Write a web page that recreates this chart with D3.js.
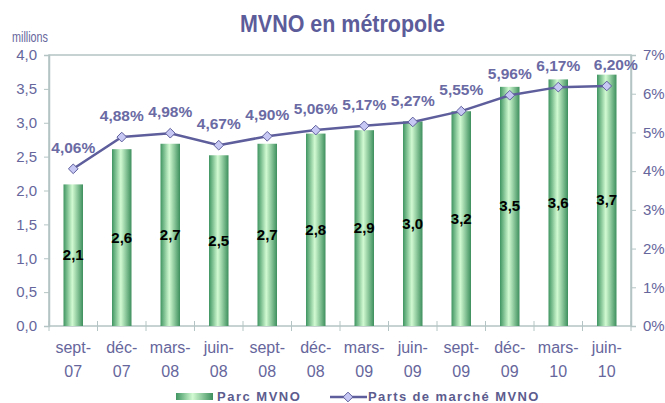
<!DOCTYPE html>
<html>
<head>
<meta charset="utf-8">
<script src="https://cdn.jsdelivr.net/npm/d3@7"></script>
<style>
  body { margin: 0; background: #fff; }
  text { font-family: "Liberation Sans", Arial, sans-serif; }
</style>
</head>
<body>
<div id="chart"></div>
<script>
// data
var months = ['sept-', 'déc-', 'mars-', 'juin-', 'sept-', 'déc-', 'mars-', 'juin-', 'sept-', 'déc-', 'mars-', 'juin-'];
var years = ['07', '07', '08', '08', '08', '08', '09', '09', '09', '09', '10', '10'];
var parc = [2.09, 2.61, 2.69, 2.52, 2.69, 2.84, 2.89, 3.02, 3.17, 3.53, 3.64, 3.71];
var parts = [4.06, 4.88, 4.98, 4.67, 4.90, 5.06, 5.17, 5.27, 5.55, 5.96, 6.17, 6.20];
var leftTicks = [0, 0.5, 1, 1.5, 2, 2.5, 3, 3.5, 4];
var rightTicks = [0, 1, 2, 3, 4, 5, 6, 7];

var width = 665, height = 403;
var margin = {top: 55, right: 34, bottom: 77, left: 49};
var axisCol = '#b4c4c4', textCol = '#66669c', lineCol = '#5e5e9c';

var svg = d3.select('#chart').append('svg')
  .attr('width', width).attr('height', height);

var defs = svg.append('defs');
var grad = defs.append('linearGradient').attr('id', 'bargrad')
  .attr('x1', '0%').attr('x2', '100%').attr('y1', '0%').attr('y2', '0%');
grad.append('stop').attr('offset', '0%').attr('stop-color', '#3f9561');
grad.append('stop').attr('offset', '45%').attr('stop-color', '#d2fad2');
grad.append('stop').attr('offset', '100%').attr('stop-color', '#3d8f5d');

var keys = d3.range(months.length);
var x = d3.scaleBand().domain(keys)
  .range([margin.left, width - margin.right]);
var y = d3.scaleLinear().domain([0, 4])
  .range([height - margin.bottom, margin.top]);
var y2 = d3.scaleLinear().domain([0, 7])
  .range([height - margin.bottom, margin.top]);

// title
svg.append('text')
  .attr('x', 240).attr('y', 32)
  .attr('font-size', 24).attr('font-weight', 'bold')
  .attr('textLength', 205).attr('lengthAdjust', 'spacingAndGlyphs')
  .attr('fill', '#5c5c9a')
  .text('MVNO en métropole');

svg.append('text')
  .attr('x', 12).attr('y', 42)
  .attr('font-size', 14).attr('fill', textCol)
  .attr('textLength', 36).attr('lengthAdjust', 'spacingAndGlyphs')
  .text('millions');

// frame of the plot area
svg.append('rect')
  .attr('x', margin.left).attr('y', margin.top)
  .attr('width', width - margin.left - margin.right)
  .attr('height', height - margin.top - margin.bottom)
  .attr('fill', 'none').attr('stroke', axisCol).attr('stroke-width', 1.5);

// left axis
var gl = svg.append('g')
  .attr('transform', 'translate(' + margin.left + ',0)')
  .call(d3.axisLeft(y).tickValues(leftTicks).tickSize(5).tickPadding(7)
    .tickFormat(function(d){ return d3.format('.1f')(d).replace('.', ','); }));
gl.select('.domain').attr('stroke', axisCol).attr('stroke-width', 1.5);
gl.selectAll('.tick line').attr('stroke', axisCol);
gl.selectAll('.tick text').attr('fill', textCol).attr('font-size', 15);

// right axis
var gr = svg.append('g')
  .attr('transform', 'translate(' + (width - margin.right) + ',0)')
  .call(d3.axisRight(y2).tickValues(rightTicks).tickSize(5).tickPadding(7)
    .tickFormat(function(d){ return d + '%'; }));
gr.select('.domain').attr('stroke', axisCol).attr('stroke-width', 1.5);
gr.selectAll('.tick line').attr('stroke', axisCol);
gr.selectAll('.tick text').attr('fill', textCol).attr('font-size', 15);

// bottom axis with ticks between categories
var base = height - margin.bottom;
svg.append('g').selectAll('line')
  .data(d3.range(months.length + 1))
  .enter().append('line')
  .attr('x1', function(i){ return margin.left + i * x.step(); })
  .attr('x2', function(i){ return margin.left + i * x.step(); })
  .attr('y1', base - 5).attr('y2', base + 5)
  .attr('stroke', axisCol);

var xl = svg.append('g').selectAll('text')
  .data(keys).enter().append('text')
  .attr('text-anchor', 'middle')
  .attr('font-size', 16).attr('fill', textCol);
xl.append('tspan')
  .attr('x', function(i){ return x(i) + x.bandwidth() / 2; })
  .attr('y', base + 27)
  .text(function(i){ return months[i]; });
xl.append('tspan')
  .attr('x', function(i){ return x(i) + x.bandwidth() / 2; })
  .attr('y', base + 51)
  .text(function(i){ return years[i]; });

// bars
var bw = 19.5;
svg.append('g').selectAll('rect')
  .data(keys).enter().append('rect')
  .attr('x', function(i){ return x(i) + x.bandwidth() / 2 - bw / 2; })
  .attr('width', bw)
  .attr('y', function(i){ return y(parc[i]); })
  .attr('height', function(i){ return y(0) - y(parc[i]); })
  .attr('fill', 'url(#bargrad)');

svg.append('g').selectAll('text')
  .data(keys).enter().append('text')
  .attr('x', function(i){ return x(i) + x.bandwidth() / 2; })
  .attr('y', function(i){ return (y(parc[i]) + y(0)) / 2 + 5; })
  .attr('text-anchor', 'middle')
  .attr('font-size', 15).attr('font-weight', 'bold').attr('fill', '#000')
  .text(function(i){ return d3.format('.1f')(parc[i]).replace('.', ','); });

// market share line
var line = d3.line()
  .x(function(i){ return x(i) + x.bandwidth() / 2; })
  .y(function(i){ return y2(parts[i]); });
svg.append('path').datum(keys)
  .attr('d', line)
  .attr('fill', 'none').attr('stroke', lineCol).attr('stroke-width', 2.5);

var diamond = d3.symbol().type(d3.symbolDiamond2).size(60);
svg.append('g').selectAll('path')
  .data(keys).enter().append('path')
  .attr('d', diamond)
  .attr('transform', function(i){
    return 'translate(' + (x(i) + x.bandwidth() / 2) + ',' + y2(parts[i]) + ')';
  })
  .attr('fill', '#c8c8f4').attr('stroke', lineCol).attr('stroke-width', 1);

svg.append('g').selectAll('text')
  .data(keys).enter().append('text')
  .attr('x', function(i){ return x(i) + x.bandwidth() / 2 + (i == 11 ? 9 : 0); })
  .attr('y', function(i){ return y2(parts[i]) - 16; })
  .attr('text-anchor', 'middle')
  .attr('font-size', 15.5).attr('font-weight', 'bold').attr('fill', '#6a6aa4')
  .text(function(i){ return d3.format('.2f')(parts[i]).replace('.', ',') + '%'; });

// legend
var lg = svg.append('g');
lg.append('rect')
  .attr('x', 176).attr('y', 393).attr('width', 37).attr('height', 7)
  .attr('fill', 'url(#bargrad)');
lg.append('text')
  .attr('x', 217).attr('y', 401)
  .attr('font-size', 13).attr('font-weight', 'bold').attr('fill', '#5c5c8e')
  .attr('letter-spacing', 1.5)
  .text('Parc MVNO');
lg.append('line')
  .attr('x1', 330).attr('x2', 367).attr('y1', 397).attr('y2', 397)
  .attr('stroke', lineCol).attr('stroke-width', 2.5);
lg.append('path')
  .attr('d', diamond)
  .attr('transform', 'translate(348,397)')
  .attr('fill', '#c8c8f4').attr('stroke', lineCol);
lg.append('text')
  .attr('x', 368).attr('y', 401)
  .attr('font-size', 13).attr('font-weight', 'bold').attr('fill', '#5c5c8e')
  .attr('letter-spacing', 1.4)
  .text('Parts de marché MVNO');
</script>
</body>
</html>
